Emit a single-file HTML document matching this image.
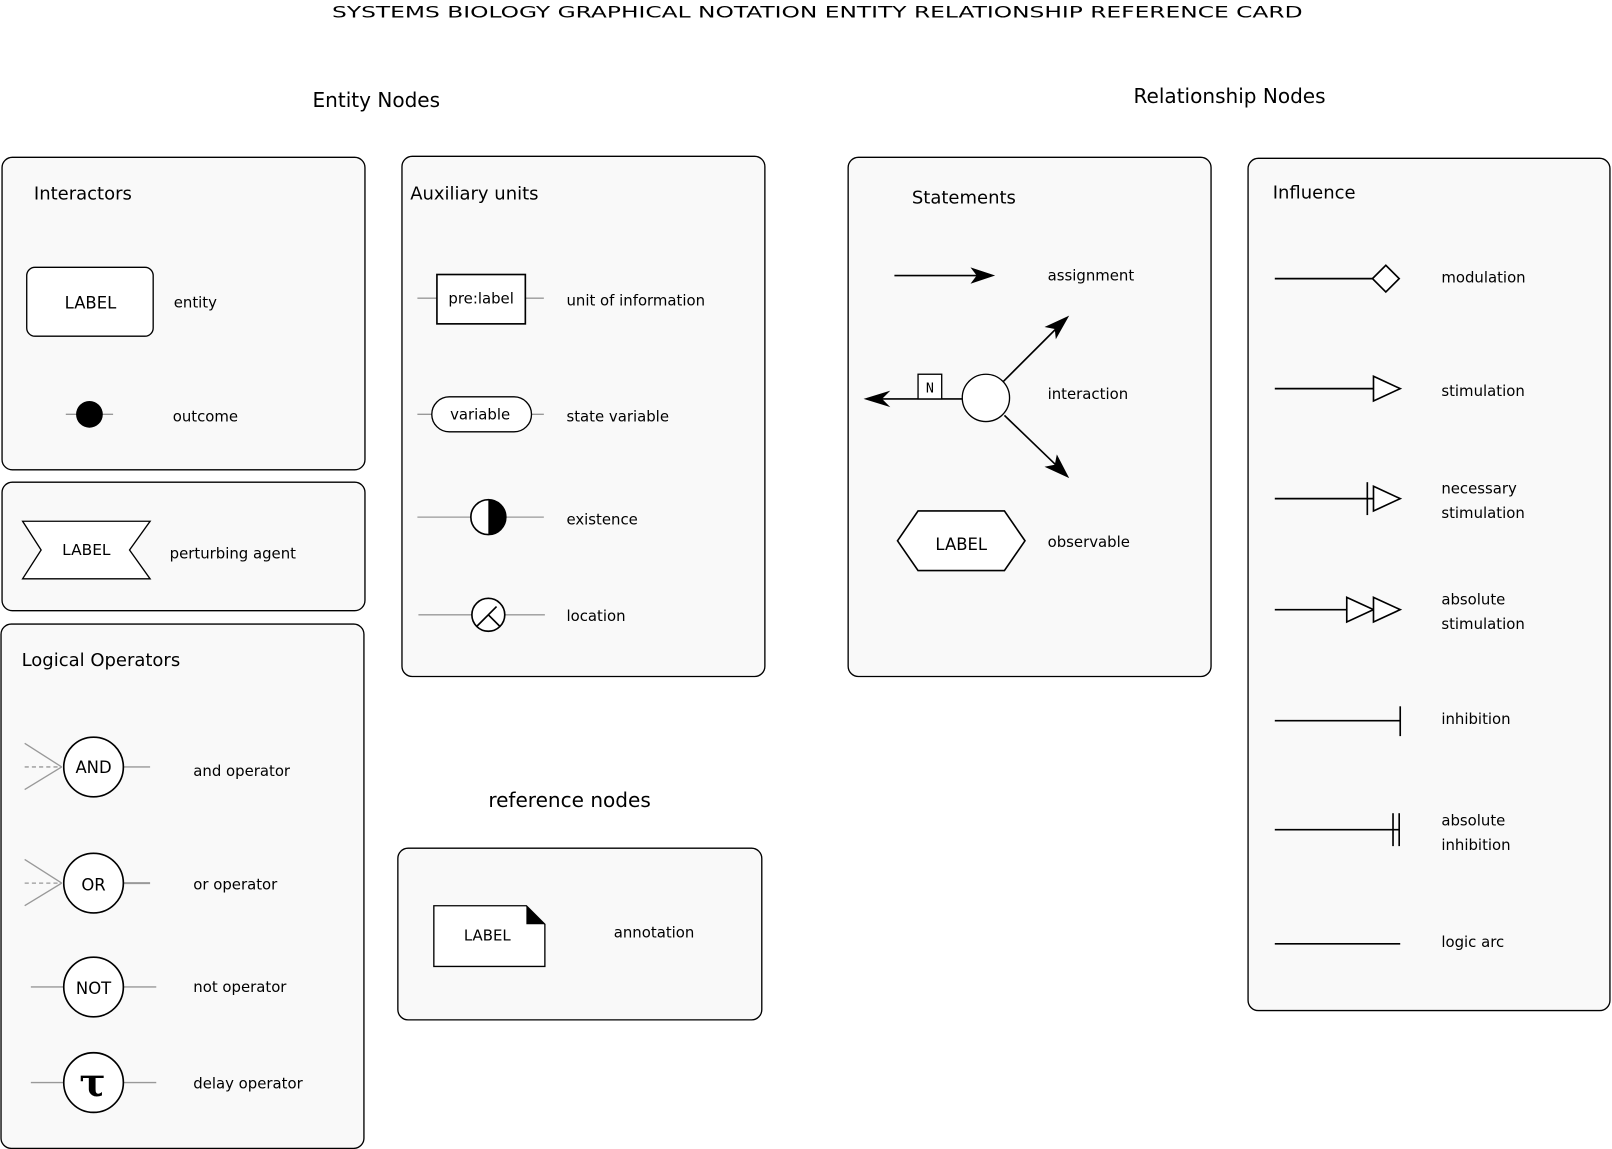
<!DOCTYPE html>
<html><head><meta charset="utf-8"><style>
html,body{margin:0;padding:0;background:#fff;}
svg{display:block;}
text{font-family:"DejaVu Sans","Liberation Sans",sans-serif;fill:#000;}
.p{fill:#f9f9f9;stroke:#000;stroke-width:1.3;}
.l{font-size:14.5px;}
.h{font-size:17.5px;}
.g{stroke:#999;stroke-width:1.3;fill:none;}
.k{stroke:#000;stroke-width:1.6;fill:none;}
.w{fill:#fff;stroke:#000;stroke-width:1.6;}
</style></head><body>
<svg width="1612" height="1149" viewBox="0 0 1568 1117.6" xmlns="http://www.w3.org/2000/svg">
<rect x="0" y="0" width="1568" height="1118" fill="#fff"/>
<text x="795" y="17" font-size="15.5" text-anchor="middle" textLength="944" lengthAdjust="spacingAndGlyphs">SYSTEMS BIOLOGY GRAPHICAL NOTATION ENTITY RELATIONSHIP REFERENCE CARD</text>
<text x="366" y="104" font-size="19.5" text-anchor="middle">Entity Nodes</text>
<text x="1196" y="100" font-size="19.5" text-anchor="middle">Relationship Nodes</text>
<text x="554" y="785" font-size="19.5" text-anchor="middle">reference nodes</text>

<!-- panels -->
<rect class="p" x="2" y="153" width="353" height="304" rx="10"/>
<rect class="p" x="2" y="469" width="353" height="125" rx="10"/>
<rect class="p" x="1" y="607" width="353" height="510" rx="10"/>
<rect class="p" x="391" y="152" width="353" height="506" rx="10"/>
<rect class="p" x="387" y="825" width="354" height="167" rx="10"/>
<rect class="p" x="825" y="153" width="353" height="505" rx="10"/>
<rect class="p" x="1214" y="154" width="352" height="829" rx="10"/>

<!-- Interactors -->
<text class="h" x="33" y="194">Interactors</text>
<rect class="w" x="26" y="260" width="123" height="67" rx="8" style="stroke-width:1.3"/>
<text x="88" y="300" font-size="16" text-anchor="middle">LABEL</text>
<text class="l" x="169" y="299">entity</text>
<line class="g" x1="64" y1="403" x2="110" y2="403"/>
<circle cx="87" cy="403" r="13" fill="#000"/>
<text class="l" x="168" y="410">outcome</text>

<!-- perturbing -->
<polygon class="w" points="22,507 146,507 126,535 146,563 22,563 40,535" style="stroke-width:1.3"/>
<text x="84" y="540" font-size="15" text-anchor="middle">LABEL</text>
<text class="l" x="165" y="543">perturbing agent</text>

<!-- Logical -->
<text class="h" x="21" y="648">Logical Operators</text>
<g>
<line class="g" x1="24" y1="723" x2="60" y2="746"/><line class="g" x1="24" y1="768" x2="60" y2="746"/>
<line class="g" x1="24" y1="746" x2="60" y2="746" stroke-dasharray="4,3"/>
<line class="g" x1="120" y1="746" x2="146" y2="746"/>
<circle class="w" cx="91" cy="746" r="29"/>
<text x="91" y="752" font-size="16" text-anchor="middle">AND</text>
<text class="l" x="188" y="755">and operator</text>
</g>
<g>
<line class="g" x1="24" y1="836" x2="60" y2="859"/><line class="g" x1="24" y1="881" x2="60" y2="859"/>
<line class="g" x1="24" y1="859" x2="60" y2="859" stroke-dasharray="4,3"/>
<line class="g" x1="120" y1="859" x2="146" y2="859" style="stroke-width:2"/>
<circle class="w" cx="91" cy="859" r="29"/>
<text x="91" y="866" font-size="16" text-anchor="middle">OR</text>
<text class="l" x="188" y="865">or operator</text>
</g>
<g>
<line class="g" x1="30" y1="960" x2="152" y2="960"/>
<circle class="w" cx="91" cy="960" r="29"/>
<text x="91" y="967" font-size="16" text-anchor="middle">NOT</text>
<text class="l" x="188" y="965">not operator</text>
</g>
<g>
<line class="g" x1="30" y1="1053" x2="152" y2="1053"/>
<circle class="w" cx="91" cy="1053" r="29"/>
<text x="90" y="1066" font-size="38" font-weight="bold" text-anchor="middle" style="font-family:'DejaVu Serif','Liberation Serif',serif">τ</text>
<text class="l" x="188" y="1059">delay operator</text>
</g>

<!-- Auxiliary -->
<text class="h" x="399" y="194">Auxiliary units</text>
<line class="g" x1="406" y1="290" x2="529" y2="290"/>
<rect class="w" x="425" y="267" width="86" height="48"/>
<text x="468" y="295" font-size="14.5" text-anchor="middle">pre:label</text>
<text class="l" x="551" y="297">unit of information</text>
<line class="g" x1="406" y1="403" x2="529" y2="403"/>
<rect class="w" x="420" y="386" width="97" height="34" rx="17" style="stroke-width:1.3"/>
<text x="467" y="408" font-size="14.5" text-anchor="middle">variable</text>
<text class="l" x="551" y="410">state variable</text>
<line class="g" x1="406" y1="503" x2="529" y2="503"/>
<circle class="w" cx="475" cy="503" r="17"/>
<path d="M475,486 A17,17 0 0 1 475,520 Z" fill="#000"/>
<text class="l" x="551" y="510">existence</text>
<line class="g" x1="407" y1="598" x2="530" y2="598"/>
<circle class="w" cx="475" cy="598" r="16"/>
<path class="k" d="M464,609 L483,590 M475,598 L486,609"/>
<text class="l" x="551" y="604">location</text>

<!-- reference -->
<path class="w" d="M422,881 L512,881 L530,899 L530,940 L422,940 Z" style="stroke-width:1.3"/>
<path d="M512,881 L530,899 L512,899 Z" fill="#000"/>
<text x="474" y="915" font-size="14.5" text-anchor="middle">LABEL</text>
<text class="l" x="597" y="912">annotation</text>

<!-- Statements -->
<text class="h" x="887" y="198">Statements</text>
<line class="k" x1="870" y1="268" x2="955" y2="268"/>
<path d="M968,268 L944,260 L950,268 L944,276 Z" fill="#000"/>
<text class="l" x="1019" y="273">assignment</text>
<line class="k" x1="936" y1="388" x2="852" y2="388"/>
<path d="M840,388 L866,380 L858,388 L866,396 Z" fill="#000"/>
<rect class="w" x="893" y="364" width="23" height="24" style="stroke-width:1.3"/>
<text x="904.5" y="382" font-size="13" text-anchor="middle" style="font-family:'DejaVu Sans Mono','Liberation Mono',monospace">N</text>
<line class="k" x1="976" y1="371" x2="1032" y2="315"/>
<path d="M1040,307 L1027,330 L1026,320 L1016,318 Z" fill="#000"/>
<line class="k" x1="977" y1="404" x2="1032" y2="457"/>
<path d="M1040,465 L1016,454 L1026,452 L1028,442 Z" fill="#000"/>
<circle class="w" cx="959" cy="387" r="23" style="stroke-width:1.3"/>
<text class="l" x="1019" y="388">interaction</text>
<polygon class="w" points="873,526 893,497 977,497 997,526 977,555 893,555"/>
<text x="935" y="535" font-size="16" text-anchor="middle">LABEL</text>
<text class="l" x="1019" y="532">observable</text>

<!-- Influence -->
<text class="h" x="1238" y="193">Influence</text>
<line class="k" x1="1240" y1="271" x2="1335" y2="271"/>
<polygon class="w" points="1335,271 1348,258 1361,271 1348,284"/>
<text class="l" x="1402" y="275">modulation</text>
<line class="k" x1="1240" y1="378" x2="1336" y2="378"/>
<polygon class="w" points="1336,366 1362,378 1336,390"/>
<text class="l" x="1402" y="385">stimulation</text>
<line class="k" x1="1240" y1="485" x2="1336" y2="485"/>
<line class="k" x1="1330" y1="469" x2="1330" y2="501"/>
<polygon class="w" points="1336,473 1362,485 1336,497"/>
<text class="l" x="1402" y="480">necessary</text>
<text class="l" x="1402" y="504">stimulation</text>
<line class="k" x1="1240" y1="593" x2="1310" y2="593"/>
<polygon class="w" points="1310,581 1336,593 1310,605"/>
<polygon class="w" points="1336,581 1362,593 1336,605"/>
<text class="l" x="1402" y="588">absolute</text>
<text class="l" x="1402" y="612">stimulation</text>
<line class="k" x1="1240" y1="701" x2="1362" y2="701"/>
<line class="k" x1="1362" y1="687" x2="1362" y2="716"/>
<text class="l" x="1402" y="704">inhibition</text>
<line class="k" x1="1240" y1="807" x2="1361" y2="807"/>
<line class="k" x1="1355" y1="791" x2="1355" y2="823"/>
<line class="k" x1="1361" y1="791" x2="1361" y2="823"/>
<text class="l" x="1402" y="803">absolute</text>
<text class="l" x="1402" y="827">inhibition</text>
<line class="k" x1="1240" y1="918" x2="1362" y2="918"/>
<text class="l" x="1402" y="921">logic arc</text>
</svg>
</body></html>
